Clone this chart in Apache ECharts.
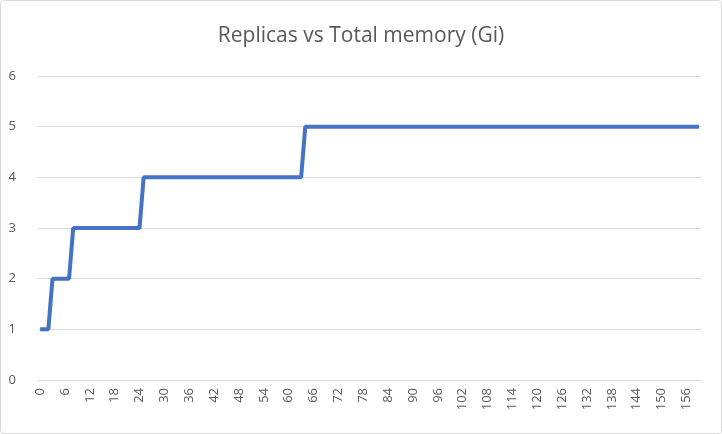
<!DOCTYPE html>
<html><head><meta charset="utf-8">
<script src="https://cdn.jsdelivr.net/npm/echarts@6/dist/echarts.min.js"></script>
<style>html,body{margin:0;background:#fff}#c{width:720px;height:432px;border:1px solid #d9d9d9;border-radius:4px}</style>
</head><body><div id="c"></div>
<script>
// total memory categories 0..159
const categories = Array.from({length: 160}, (_, i) => String(i));
// step corners: [category index, replicas]
const replicaPoints = [[0,1],[2,1],[3,2],[7,2],[8,3],[24,3],[25,4],[63,4],[64,5],[159,5]];

echarts.init(document.getElementById('c')).setOption({
  title: {text: 'Replicas vs Total memory (Gi)', left: 'center', top: 20,
    textStyle: {fontFamily: 'Open Sans', fontSize: 21, fontWeight: 'normal', color: '#595959'}},
  grid: {left: 37, right: 20, top: 75, bottom: 53},
  xAxis: {type: 'category', data: categories, boundaryGap: true,
    axisLine: {lineStyle: {color: '#d9d9d9'}}, axisTick: {show: false},
    axisLabel: {interval: 5, rotate: 90, color: '#595959', fontSize: 13, fontFamily: 'Open Sans'}},
  yAxis: {type: 'value', min: 0, max: 6, interval: 1,
    axisLabel: {color: '#595959', fontSize: 13, fontFamily: 'Open Sans', margin: 22},
    splitLine: {lineStyle: {color: '#d9d9d9'}}},
  series: [{type: 'line', data: replicaPoints, showSymbol: false,
    lineStyle: {color: '#4472c4', width: 4}, itemStyle: {color: '#4472c4'}}]
});
</script></body></html>
